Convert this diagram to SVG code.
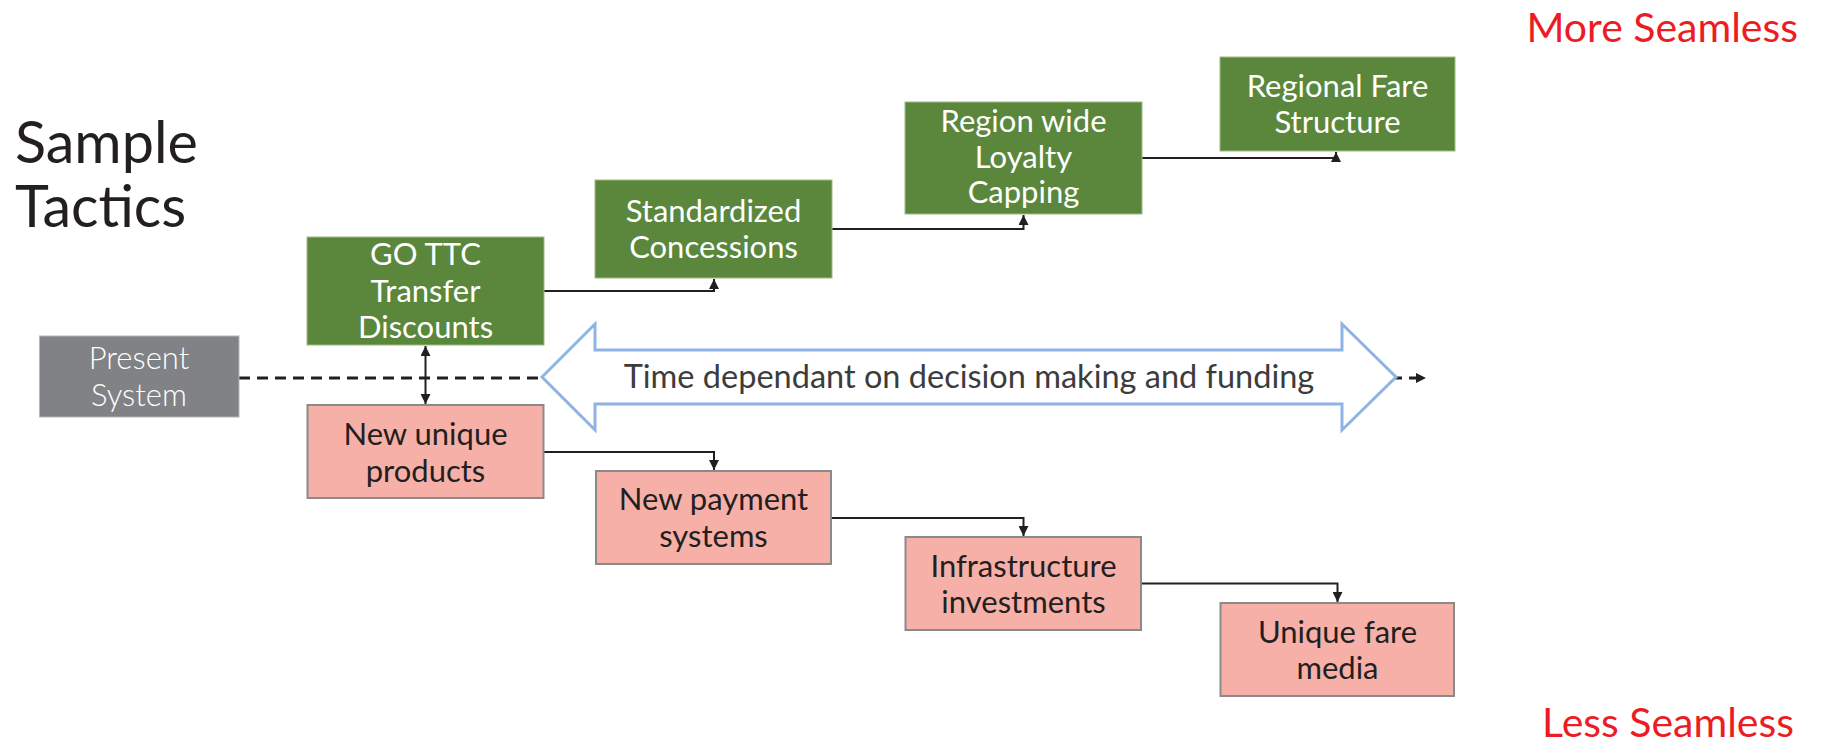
<svg xmlns="http://www.w3.org/2000/svg" width="1825" height="746" viewBox="0 0 1825 746">
<style>
.green rect{fill:#5A873B;stroke:#9DBA83;stroke-width:1}
.pink rect{fill:#F6B0A8;stroke:#8A8A8A;stroke-width:2}
.gray rect{fill:#808285;stroke:#B5B6B8;stroke-width:1}
.green text{fill:#FFFFFF}
.pink text{fill:#231F20}
.gray text{fill:#FFFFFF;font-weight:300;font-size:31px}
text{font-family:Lato,"Noto Sans","Liberation Sans",sans-serif;font-size:31px;text-anchor:middle}
.title{font-size:57.5px;text-anchor:start;fill:#231F20}
.red{font-size:41px;fill:#ED1C24;text-anchor:end}
.conn{fill:none;stroke:#231F20;stroke-width:2}
</style>
<defs>
<marker id="ah" viewBox="0 0 10 10" refX="10" refY="5" markerWidth="10" markerHeight="10" markerUnits="userSpaceOnUse" orient="auto-start-reverse">
<path d="M0,0 L10,5 L0,10 Z" fill="#231F20"/>
</marker>
</defs>
<text class="title" x="15" y="163">Sample</text>
<text class="title" x="15" y="227">Tactics</text>
<text class="red" x="1798" y="42">More Seamless</text>
<text class="red" x="1794" y="737">Less Seamless</text>
<g id="connectors">
<line x1="239" y1="378" x2="1426" y2="378" stroke="#231F20" stroke-width="3" stroke-dasharray="11,7" marker-end="url(#ah)"/>
<line class="conn" x1="425.5" y1="346" x2="425.5" y2="404" marker-start="url(#ah)" marker-end="url(#ah)"/>
<polyline class="conn" points="544,291 714,291 714,279" marker-end="url(#ah)"/>
<polyline class="conn" points="832,229 1023.5,229 1023.5,215" marker-end="url(#ah)"/>
<polyline class="conn" points="1142,158 1336,158 1336,152" marker-end="url(#ah)"/>
<polyline class="conn" points="543,452 714,452 714,470" marker-end="url(#ah)"/>
<polyline class="conn" points="831,518 1023.5,518 1023.5,536" marker-end="url(#ah)"/>
<polyline class="conn" points="1141,583.5 1337.5,583.5 1337.5,602" marker-end="url(#ah)"/>
</g>
<g id="timeline">
<polygon points="542,377 595,324 595,350 1342,350 1342,324 1396,377 1342,430 1342,404 595,404 595,430" fill="#FFFFFF" stroke="#8DB4E2" stroke-width="3"/>
<text x="969" y="388" style="font-size:32.5px;fill:#3C3C3C">Time dependant on decision making and funding</text>
</g>
<g id="present" class="gray">
<rect x="39.5" y="336" width="199.5" height="81"/>
<text x="139" y="369">Present</text>
<text x="139" y="406">System</text>
</g>
<g id="go-ttc" class="green">
<rect x="307" y="237" width="237" height="108"/>
<text x="425.5" y="265">GO TTC</text>
<text x="425.5" y="302">Transfer</text>
<text x="425.5" y="338">Discounts</text>
</g>
<g id="standardized" class="green">
<rect x="595" y="180" width="237" height="98"/>
<text x="713.5" y="222">Standardized</text>
<text x="713.5" y="258">Concessions</text>
</g>
<g id="region-wide" class="green">
<rect x="905" y="102" width="237" height="112"/>
<text x="1023.5" y="132">Region wide</text>
<text x="1023.5" y="168">Loyalty</text>
<text x="1023.5" y="203">Capping</text>
</g>
<g id="regional-fare" class="green">
<rect x="1220" y="57" width="235" height="94"/>
<text x="1337.5" y="97">Regional Fare</text>
<text x="1337.5" y="133">Structure</text>
</g>
<g id="new-unique" class="pink">
<rect x="307.5" y="405" width="236" height="93"/>
<text x="425.5" y="445">New unique</text>
<text x="425.5" y="482">products</text>
</g>
<g id="new-payment" class="pink">
<rect x="596" y="471" width="235" height="93"/>
<text x="713.5" y="510">New payment</text>
<text x="713.5" y="547">systems</text>
</g>
<g id="infrastructure" class="pink">
<rect x="905.5" y="537" width="235.5" height="93"/>
<text x="1023.5" y="577">Infrastructure</text>
<text x="1023.5" y="613">investments</text>
</g>
<g id="unique-fare" class="pink">
<rect x="1220.5" y="603" width="233.5" height="93"/>
<text x="1337.5" y="643">Unique fare</text>
<text x="1337.5" y="679">media</text>
</g>
</svg>
